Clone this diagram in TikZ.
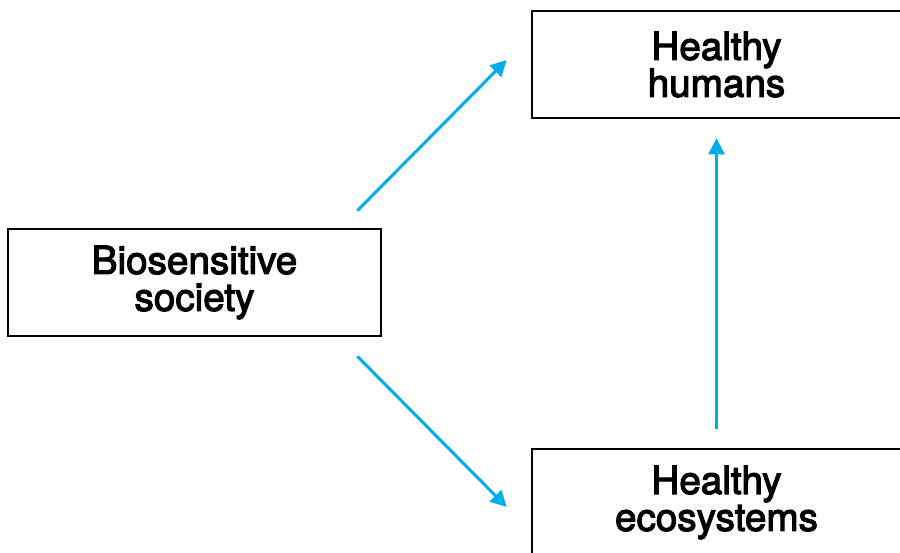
\documentclass[tikz,border=0pt]{standalone}
\usepackage{fontspec}
\setmainfont{TeX Gyre Heros}
\usetikzlibrary{shapes,arrows.meta,calc}
\definecolor{linkblue}{RGB}{0,172,236}

\begin{document}
\begin{tikzpicture}[auto, node distance=0cm, >={Triangle[length=0.32cm,width=0.32cm]},
  box/.style={draw, line width=1.5pt, align=center, inner sep=0pt,
    minimum height=2.14cm, font=\fontsize{22}{21}\selectfont\addfontfeature{FakeBold=3}},
  link/.style={->, line width=1.7pt, linkblue}]
\useasboundingbox (0,0) rectangle (18,11.06);

\node[box, minimum width=7.46cm] at (3.89, 5.41) (soc) {Biosensitive\\society};
\node[box, minimum width=7.38cm] at (14.33, 9.77) (hum) {Healthy\\humans};
\node[box, minimum width=7.38cm] at (14.33, 1.01) (eco) {Healthy\\ecosystems};
\draw [link] ($(soc.north east)+(-0.5,0.34)$) to ($(hum.west)+(-0.48,0.09)$);
\draw [link] ($(soc.south east)+(-0.5,-0.38)$) to ($(eco.west)+(-0.48,-0.09)$);
\draw [link] ($(eco.north)+(0,0.38)$) to ($(hum.south)+(0,-0.38)$);
\end{tikzpicture}
\end{document}
